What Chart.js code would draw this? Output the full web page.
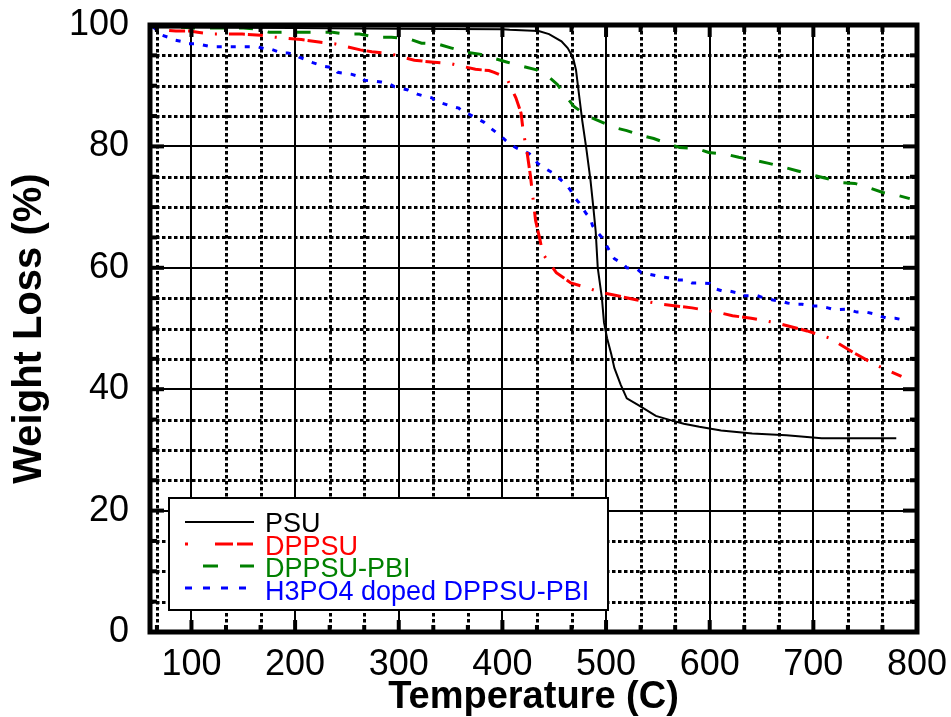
<!DOCTYPE html>
<html>
<head>
<meta charset="utf-8">
<script src="https://cdn.jsdelivr.net/npm/chart.js@4.4.0/dist/chart.umd.min.js"></script>
<style>
  html, body { margin: 0; padding: 0; background: #fff; }
</style>
</head>
<body>
<canvas id="tga" width="951" height="717"></canvas>
<script>
// TGA curves: temperature (C) and weight (%)
const psuTemp = [60, 200, 300, 400, 407, 435, 445, 457, 463, 468, 471, 474, 477, 481, 485, 488, 490, 492, 496, 498,
    501, 505, 508, 514, 520, 532, 548, 562, 575, 590, 611, 641, 674, 708, 780];
const psuWeight = [99.6, 99.5, 99.4, 99.3, 99.2, 99.0, 98.5, 97.3, 96.2, 94.7, 92.6, 88.4, 84.3, 79.6, 74.4, 69.5, 66.0, 60.0, 55.0, 51.0,
    48.4, 45.8, 43.5, 40.8, 38.5, 37.3, 35.6, 34.9, 34.3, 33.8, 33.2, 32.7, 32.4, 31.9, 31.9];

const dppsuTemp = [65, 85, 98, 106, 120, 149, 167, 180, 206, 223, 238, 263, 274, 291, 315, 331, 351, 374, 387, 392,
    404, 413, 418, 420, 424, 427, 429, 432, 436, 439, 452, 466, 476, 496, 511, 516, 530, 554, 583, 607,
    622, 640, 665, 694, 716, 739, 759, 785];
const dppsuWeight = [99.3, 99.0, 99.0, 98.8, 98.5, 98.5, 98.3, 98.0, 97.6, 97.2, 96.9, 95.9, 95.6, 95.3, 94.2, 93.9, 93.6, 92.7, 92.5, 92.2,
    91.3, 88.0, 85.5, 82.6, 78.8, 75.2, 72.2, 67.8, 64.8, 62.3, 59.2, 57.5, 57.0, 55.9, 55.4, 55.2, 54.7, 54.0, 53.4, 52.7,
    52.1, 51.7, 50.9, 49.6, 48.4, 46.0, 44.1, 42.1];

const pbiTemp = [62, 76, 103, 137, 150, 164, 175, 200, 236, 248, 262, 278, 293, 310, 322, 337, 351, 365, 378, 392,
    404, 419, 433, 445, 453, 461, 469, 481, 492, 508, 520, 534, 546, 559, 571, 587, 599, 616, 628, 644,
    657, 673, 684, 701, 713, 728, 740, 755, 767, 782, 793];
const pbiWeight = [99.8, 99.8, 99.5, 99.5, 99.5, 99.3, 98.8, 98.8, 98.8, 98.5, 98.5, 98.0, 98.0, 97.7, 97.0, 96.9, 96.2, 95.5, 95.2, 94.5,
    93.9, 93.2, 92.6, 91.4, 90.2, 88.3, 86.6, 85.1, 84.3, 83.1, 82.6, 81.8, 81.3, 80.5, 79.8, 79.7, 79.0, 78.7, 78.2, 77.7,
    77.2, 76.5, 76.0, 75.2, 74.7, 74.0, 73.9, 73.1, 72.4, 71.9, 71.4];

const dopedTemp = [62, 69, 72, 79, 84, 93, 96, 106, 117, 124, 164, 172, 177, 187, 193, 202, 204, 212, 217, 228,
    238, 241, 254, 264, 267, 283, 292, 296, 309, 318, 324, 332, 336, 342, 351, 358, 361, 368, 373, 382,
    388, 394, 400, 403, 409, 414, 426, 431, 434, 440, 445, 450, 455, 462, 466, 468, 474, 477, 481, 485,
    487, 492, 496, 501, 505, 508, 516, 520, 530, 534, 548, 558, 570, 577, 583, 589, 600, 604, 612, 618,
    626, 631, 646, 653, 661, 669, 675, 682, 689, 699, 704, 714, 720, 732, 742, 751, 759, 763, 771, 779,
    787, 791];
const dopedWeight = [99.8, 98.8, 98.3, 97.9, 97.5, 97.2, 96.9, 96.9, 96.5, 96.4, 96.4, 96.0, 96.0, 95.4, 95.4, 95.0, 94.7, 94.2, 93.8, 93.2,
    92.9, 92.2, 91.9, 91.4, 90.9, 90.6, 90.2, 89.8, 89.3, 88.6, 88.3, 88.0, 87.4, 87.1, 86.6, 86.3, 85.8, 85.3, 84.8, 84.0,
    83.1, 82.3, 81.5, 81.0, 80.2, 79.7, 78.8, 78.0, 77.2, 76.5, 76.0, 75.5, 74.7, 73.6, 72.7, 71.9, 70.7, 69.9, 68.9, 68.1,
    66.9, 65.8, 65.0, 63.5, 62.3, 61.5, 60.7, 60.0, 59.8, 59.2, 58.7, 58.4, 58.0, 58.0, 57.5, 57.5, 57.4, 56.6, 56.2, 56.2,
    55.9, 55.4, 55.4, 55.0, 54.7, 54.5, 54.2, 54.0, 54.0, 53.7, 53.7, 53.4, 53.1, 53.2, 52.7, 52.7, 52.4, 52.1, 51.7, 51.7,
    51.4, 51.4];

const seriesNames = ['PSU', 'DPPSU', 'DPPSU-PBI', 'H3PO4 doped DPPSU-PBI'];
const xTickLabels = [100, 200, 300, 400, 500, 600, 700, 800];
const yTickLabels = [0, 20, 40, 60, 80, 100];

const FONT = "'Liberation Sans', Arial, sans-serif";
const toPoints = (xs, ys) => xs.map((t, i) => ({ x: t, y: ys[i] }));

// dash used for the little samples in the legend box
const legendDash = [[], [3, 27, 18, 4, 16, 100], [15, 22], [7, 11]];
const legendDashOffset = [0, 0, 19, 0];

// minor grid every 1/3 of 100 C and every 5 %
const xMinor = [];
for (let k = 2; k < 24; k++) if (k % 3) xMinor.push(k * 100 / 3);
const yMinor = [];
for (let v = 5; v < 100; v += 5) if (v % 20) yMinor.push(v);

const plotDecor = {
    id: 'plotDecor',
    beforeDatasetsDraw(chart) {
        const { ctx, chartArea: a, scales: { x, y } } = chart;
        ctx.save();
        ctx.beginPath();
        ctx.rect(a.left, a.top, a.width, a.height);
        ctx.clip();
        ctx.strokeStyle = '#000';
        ctx.lineWidth = 3;
        ctx.setLineDash([3.5, 2.5]);
        xMinor.forEach(v => {
            const px = Math.round(x.getPixelForValue(v)) + 0.5;
            ctx.beginPath(); ctx.moveTo(px, a.top); ctx.lineTo(px, a.bottom); ctx.stroke();
        });
        yMinor.forEach(v => {
            const py = Math.round(y.getPixelForValue(v)) + 0.5;
            ctx.beginPath(); ctx.moveTo(a.left, py); ctx.lineTo(a.right, py); ctx.stroke();
        });
        ctx.restore();
    },
    afterDatasetsDraw(chart) {
        const { ctx, chartArea: a, scales: { x, y } } = chart;
        ctx.save();
        ctx.strokeStyle = '#000';
        ctx.setLineDash([]);
        ctx.lineWidth = 5;
        ctx.strokeRect(a.left, a.top, a.width, a.height);
        ctx.lineWidth = 4;
        const tick = (x1, y1, x2, y2) => { ctx.beginPath(); ctx.moveTo(x1, y1); ctx.lineTo(x2, y2); ctx.stroke(); };
        xTickLabels.concat(xMinor).forEach(v => {
            const len = xTickLabels.includes(v) ? 12 : 7;
            const px = x.getPixelForValue(v);
            tick(px, a.bottom, px, a.bottom - len);
            tick(px, a.top, px, a.top + len);
        });
        yTickLabels.concat(yMinor).forEach(v => {
            const len = yTickLabels.includes(v) ? 14 : 7;
            const py = y.getPixelForValue(v);
            tick(a.left, py, a.left + len, py);
            tick(a.right, py, a.right - len, py);
        });
        ctx.restore();
    },
    afterDraw(chart) {
        const { ctx, chartArea: a } = chart;
        const bx = a.left + 19, by = a.bottom - 134, bw = 439, bh = 112;
        ctx.save();
        ctx.fillStyle = '#fff';
        ctx.fillRect(bx, by, bw, bh);
        ctx.strokeStyle = '#000';
        ctx.lineWidth = 2;
        ctx.strokeRect(bx, by, bw, bh);
        ctx.font = '27px ' + FONT;
        ctx.textBaseline = 'alphabetic';
        ctx.textAlign = 'left';
        chart.data.datasets.forEach((ds, i) => {
            const ly = by + 24 + i * 22;
            ctx.strokeStyle = ds.borderColor;
            ctx.lineWidth = ds.borderWidth;
            ctx.setLineDash(legendDash[i]);
            ctx.lineDashOffset = legendDashOffset[i];
            ctx.beginPath(); ctx.moveTo(bx + 16, ly); ctx.lineTo(bx + 85, ly); ctx.stroke();
            ctx.fillStyle = ds.borderColor;
            ctx.fillText(ds.label, bx + 96, by + 34 + i * 22.7);
        });
        ctx.restore();
    }
};

new Chart(document.getElementById('tga'), {
    type: 'line',
    data: {
        datasets: [
            { label: seriesNames[0], data: toPoints(psuTemp, psuWeight), borderColor: '#000000', borderWidth: 2 },
            { label: seriesNames[1], data: toPoints(dppsuTemp, dppsuWeight), borderColor: '#ff0000', borderWidth: 3,
              borderDash: [2, 12, 16, 3, 15, 12] },
            { label: seriesNames[2], data: toPoints(pbiTemp, pbiWeight), borderColor: '#008000', borderWidth: 3,
              borderDash: [14, 15] },
            { label: seriesNames[3], data: toPoints(dopedTemp, dopedWeight), borderColor: '#0000ff', borderWidth: 3,
              borderDash: [5, 9] }
        ]
    },
    options: {
        responsive: false,
        animation: false,
        layout: { padding: { top: 25, right: 34, left: 0, bottom: 0 } },
        elements: { point: { radius: 0 }, line: { tension: 0, fill: false } },
        plugins: { legend: { display: false }, tooltip: { enabled: false } },
        scales: {
            x: {
                type: 'linear', min: 60, max: 800,
                afterBuildTicks: s => { s.ticks = xTickLabels.map(v => ({ value: v })); },
                afterFit: s => { s.height = 85; s.paddingLeft = 0; s.paddingRight = 0; },
                grid: { color: '#000', lineWidth: 2, drawTicks: false },
                border: { display: false },
                ticks: { color: '#000', font: { family: FONT, size: 36 }, padding: 11, maxRotation: 0 },
                title: { display: true, text: 'Temperature (C)', color: '#000',
                         font: { family: FONT, size: 38, weight: 'bold', lineHeight: 1 }, padding: { top: 0, bottom: 0 } }
            },
            y: {
                type: 'linear', min: 0, max: 100,
                afterBuildTicks: s => { s.ticks = yTickLabels.map(v => ({ value: v })); },
                afterFit: s => { s.width = 150; s.paddingTop = 0; s.paddingBottom = 0; },
                grid: { color: '#000', lineWidth: 2, drawTicks: false },
                border: { display: false },
                ticks: { color: '#000', font: { family: FONT, size: 36 }, padding: 21 },
                title: { display: true, text: 'Weight Loss (%)', color: '#000',
                         font: { family: FONT, size: 40, weight: 'bold', lineHeight: 1 }, padding: { top: 10, bottom: 0 } }
            }
        }
    },
    plugins: [plotDecor]
});
</script>
</body>
</html>
